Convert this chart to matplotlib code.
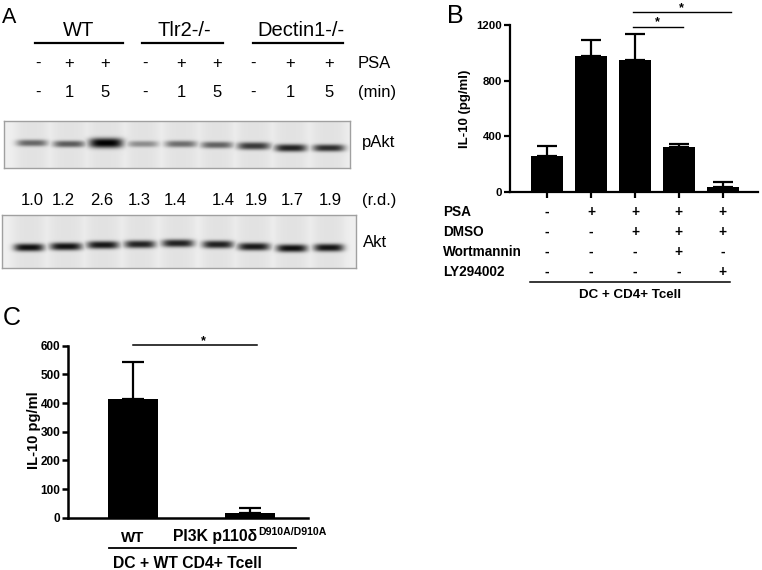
import numpy as np
import matplotlib
matplotlib.use('Agg')
import matplotlib.pyplot as plt
from matplotlib.lines import Line2D
from matplotlib.transforms import blended_transform_factory

W, H = 762, 570
plt.rcParams['font.family'] = ['Liberation Sans', 'DejaVu Sans']

# ---------------- data ----------------
# Panel A (western blot)
genotypes = ['WT', 'Tlr2-/-', 'Dectin1-/-']
psa_row = ['-', '+', '+', '-', '+', '+', '-', '+', '+']
min_row = ['-', '1', '5', '-', '1', '5', '-', '1', '5']
rd_values = ['1.0', '1.2', '2.6', '1.3', '1.4', '1.4', '1.9', '1.7', '1.9']
pakt_intensity = [0.55, 0.60, 1.00, 0.38, 0.52, 0.57, 0.75, 0.85, 0.80]
akt_intensity = [0.93, 0.92, 0.90, 0.85, 0.85, 0.86, 0.89, 0.93, 0.91]

# Panel B
b_values = [261, 977, 946, 323, 34]
b_errors = [70, 115, 187, 22, 36]
b_row_labels = ['PSA', 'DMSO', 'Wortmannin', 'LY294002']
b_psa = ['-', '+', '+', '+', '+']
b_dmso = ['-', '-', '+', '+', '+']
b_wort = ['-', '-', '-', '+', '-']
b_ly = ['-', '-', '-', '-', '+']
b_yticks = [0, 400, 800, 1200]
b_group_label = 'DC + CD4+ Tcell'
b_ylabel = 'IL-10 (pg/ml)'

# Panel C
c_labels = ['WT', 'PI3K p110δ']
c_superscript = 'D910A/D910A'
c_values = [414, 15]
c_errors = [130, 18]
c_yticks = [0, 100, 200, 300, 400, 500, 600]
c_group_label = 'DC + WT CD4+ Tcell'
c_ylabel = 'IL-10 pg/ml'

# ---------------- helpers ----------------
fig = plt.figure(figsize=(W / 100, H / 100), dpi=100)
fig.patch.set_facecolor('white')


def fx(x):
    return x / W


def fy(y):
    return 1 - y / H


def ftext(x, y, s, **kw):
    kw.setdefault('va', 'baseline')
    return fig.text(fx(x), fy(y), s, **kw)


def fline(x0, x1, y, lw=1.2):
    fig.add_artist(Line2D([fx(x0), fx(x1)], [fy(y), fy(y)], color='black',
                          lw=lw, transform=fig.transFigure))


def blot(x0, x1, ytop, ybot, lane_x, lane_y, intens, widths, thick):
    ax = fig.add_axes([fx(x0), fy(ybot), (x1 - x0) / W, (ybot - ytop) / H])
    nx = int((x1 - x0) * 3)
    ny = int((ybot - ytop) * 3)
    xs = np.linspace(x0, x1, nx)
    ys = np.linspace(ytop, ybot, ny)
    X, Y = np.meshgrid(xs, ys)
    dark = np.zeros_like(X)
    lanes = np.zeros_like(X)
    for cx, cy, a, w, t in zip(lane_x, lane_y, intens, widths, thick):
        px = np.exp(-np.abs((X - cx) / (w / 2)) ** 4)
        py = np.exp(-np.abs((Y - cy) / t) ** 2.5)
        dark = np.maximum(dark, a * px * py)
        lanes = np.maximum(lanes, np.exp(-np.abs((X - cx) / (w / 2 + 2)) ** 4))
    bg = 0.94 - 0.05 * lanes
    img = bg * (1 - dark)
    ax.imshow(img, cmap='gray', vmin=0, vmax=1, extent=(x0, x1, ybot, ytop),
              aspect='auto', interpolation='bilinear')
    ax.set_xlim(x0, x1)
    ax.set_ylim(ybot, ytop)
    ax.set_xticks([])
    ax.set_yticks([])
    for s in ax.spines.values():
        s.set_color('#a0a0a0')
        s.set_linewidth(1.0)
    return ax


# ---------------- Panel A ----------------
ftext(2, 23, 'A', fontsize=15.5)
header_x = [79, 184, 301]
header_lines = [(35, 123), (142, 223), (253, 343)]
for g, hx, (l0, l1) in zip(genotypes, header_x, header_lines):
    ftext(hx, 35.5, g, fontsize=14.5, ha='center')
    fline(l0, l1, 43, lw=1.6)

label_x = [38, 69, 105, 145, 181, 217, 253, 290, 329]
for s, lx in zip(psa_row, label_x):
    ftext(lx, 68, s, fontsize=12, ha='center')
for s, lx in zip(min_row, label_x):
    ftext(lx, 97, s, fontsize=12, ha='center')
ftext(358, 68, 'PSA', fontsize=12, ha='left')
ftext(358, 97, '(min)', fontsize=12, ha='left')

pakt_lanes = [32, 69, 106, 143, 181, 217, 254, 291, 329]
pakt_y = [143, 144, 143, 144, 144, 145, 146, 148, 148]
pakt_w = [31, 32, 34, 31, 32, 32, 33, 32, 32]
pakt_t = [3.4, 3.4, 5.0, 3.2, 3.4, 3.4, 3.8, 3.8, 3.6]
blot(4, 350, 121, 168, pakt_lanes, pakt_y, pakt_intensity, pakt_w, pakt_t)
ftext(362, 147, 'pAkt', fontsize=12, ha='left')

rd_x = [32, 63, 102, 139, 175, 223, 256, 292, 330]
for s, rx in zip(rd_values, rd_x):
    ftext(rx, 205, s, fontsize=12, ha='center')
ftext(362, 205, '(r.d.)', fontsize=12, ha='left')

akt_lanes = [29, 66, 103, 140, 178, 218, 254, 292, 329]
akt_y = [247.5, 246.5, 245, 244.3, 243.3, 244.5, 246.7, 248.3, 247.7]
akt_w = [30, 32, 32, 31, 32, 31, 32, 31, 30]
akt_t = [3.9] * 9
blot(2, 356, 215, 268, akt_lanes, akt_y, akt_intensity, akt_w, akt_t)
ftext(363, 247, 'Akt', fontsize=12, ha='left')

# ---------------- Panel B ----------------
ftext(447, 23, 'B', fontsize=18)
axB = fig.add_axes([fx(510), fy(192), (758 - 510) / W, (192 - 25) / H])
xB = np.arange(len(b_values))
axB.bar(xB, b_values, width=0.73, color='black', zorder=2)
axB.errorbar(xB, b_values, yerr=[np.zeros(len(b_values)), b_errors], fmt='none',
             ecolor='black', elinewidth=1.6, capsize=7, capthick=1.6, zorder=3)
axB.set_xlim(-0.84, 4.8)
axB.set_ylim(0, 1200)
for s in ['top', 'right']:
    axB.spines[s].set_visible(False)
for s in ['left', 'bottom']:
    axB.spines[s].set_linewidth(1.6)
axB.set_yticks(b_yticks)
axB.set_yticklabels([str(v) for v in b_yticks], fontsize=8.2, fontweight='bold')
axB.set_xticks(xB)
axB.set_xticklabels([])
axB.tick_params(axis='both', direction='out', length=4, width=1.6, pad=1.5)
ftext(465, 109, b_ylabel, fontsize=9.5, fontweight='bold', rotation=90,
      ha='center', va='center')

# significance bars
sig_lines = [(1.95, 3.09, 1188), (1.95, 4.18, 1291)]
for x0, x1, yv in sig_lines:
    axB.plot([x0, x1], [yv, yv], color='black', lw=1.0, clip_on=False)
    axB.text((x0 + x1) / 2, yv + 8, '*', ha='center', va='baseline',
             fontsize=9, fontweight='bold', clip_on=False)

# treatment table
trB = blended_transform_factory(axB.transData, fig.transFigure)
row_base = [216, 236, 256, 276]
for lab, vals, yb in zip(b_row_labels, [b_psa, b_dmso, b_wort, b_ly], row_base):
    ftext(443, yb, lab, fontsize=9.8, fontweight='bold', ha='left')
    for xi, v in zip(xB, vals):
        fig.text(xi, fy(yb), v, transform=trB, ha='center', va='baseline',
                 fontsize=9.8, fontweight='bold')
fline(530, 730, 282, lw=1.1)
ftext(630, 298, b_group_label, fontsize=9.6, fontweight='bold', ha='center')

# ---------------- Panel C ----------------
ftext(3, 325, 'C', fontsize=18)
axC = fig.add_axes([fx(68), fy(517.7), (308 - 68) / W, (517.7 - 345.7) / H])
xC = np.arange(len(c_values))
axC.bar(xC, c_values, width=0.42, color='black', zorder=2)
axC.errorbar(xC, c_values, yerr=[np.zeros(len(c_values)), c_errors], fmt='none',
             ecolor='black', elinewidth=1.6, capsize=8, capthick=1.6, zorder=3)
axC.set_xlim(-0.556, 1.496)
axC.set_ylim(0, 600)
for s in ['top', 'right']:
    axC.spines[s].set_visible(False)
for s in ['left', 'bottom']:
    axC.spines[s].set_linewidth(1.8)
axC.set_yticks(c_yticks)
axC.set_yticklabels([str(v) for v in c_yticks], fontsize=8.5, fontweight='bold')
axC.set_xticks([])
axC.tick_params(axis='y', direction='out', length=4, width=1.8, pad=1.5)
ftext(34, 430, c_ylabel, fontsize=10.5, fontweight='bold', rotation=90,
      ha='center', va='center')

axC.plot([0.0, 1.06], [602, 602], color='black', lw=1.1, clip_on=False)
axC.text(0.6, 604, '*', ha='center', va='baseline', fontsize=9,
         fontweight='bold', clip_on=False)

trC = blended_transform_factory(axC.transData, fig.transFigure)
fig.text(xC[0], fy(542), c_labels[0], transform=trC, ha='center', va='baseline',
         fontsize=10.8, fontweight='bold')
main = ftext(173, 541.5, c_labels[1], fontsize=11.3, fontweight='bold', ha='left')
renderer = fig.canvas.get_renderer()
bb = main.get_window_extent(renderer)
ftext(bb.x1 + 1, 535, c_superscript, fontsize=7.6, fontweight='bold', ha='left')
fline(109, 296, 548, lw=1.3)
ftext(187, 568, c_group_label, fontsize=11.3, fontweight='bold', ha='center')

fig.savefig('out.png', dpi=100, facecolor='white')
